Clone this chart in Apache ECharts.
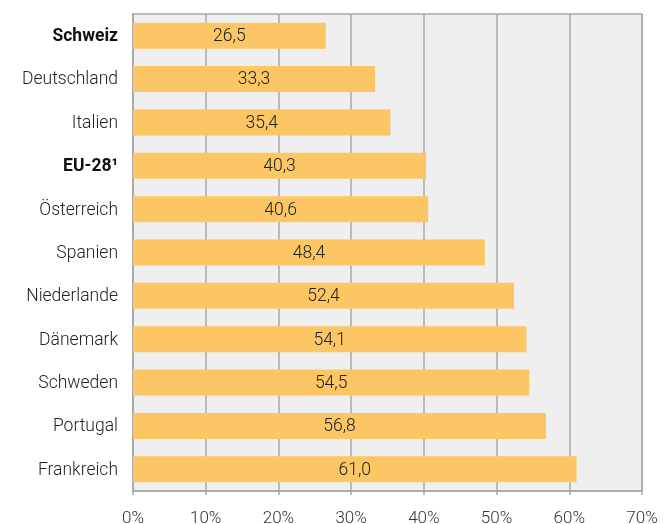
<!DOCTYPE html>
<html>
<head>
<meta charset="utf-8">
<script src="https://cdn.jsdelivr.net/npm/echarts@6/dist/echarts.min.js"></script>
<style>
html,body{margin:0;padding:0;background:#fff;}
#chart{width:664px;height:524px;}
</style>
</head>
<body>
<div id="chart"></div>
<script>
// Countries, top to bottom
const countries = ['Schweiz','Deutschland','Italien','EU-28¹','Österreich','Spanien','Niederlande','Dänemark','Schweden','Portugal','Frankreich'];
// Share in percent
const shares = [26.5,33.3,35.4,40.3,40.6,48.4,52.4,54.1,54.5,56.8,61.0];
// Rows shown in bold
const boldRows = ['Schweiz','EU-28¹'];
// Axis ticks
const axisTicks = [0,10,20,30,40,50,60,70];

const chart = echarts.init(document.getElementById('chart'), null, {renderer:'canvas'});
const gridColor = '#a9a9a9';
const fs = 17.5;
chart.setOption({
  animation:false,
  textStyle:{fontFamily:'Roboto'},
  grid:{left:133,right:22,top:14,bottom:33,containLabel:false,outerBoundsMode:'none',
    show:true,backgroundColor:'#efefef',borderColor:gridColor,borderWidth:1.5},
  xAxis:{
    type:'value',min:axisTicks[0],max:axisTicks[axisTicks.length-1],interval:10,
    axisLine:{show:true,lineStyle:{color:gridColor,width:1.5}},
    axisTick:{show:true,length:4,lineStyle:{color:gridColor,width:1.5}},
    splitLine:{show:true,lineStyle:{color:gridColor,width:1.5}},
    axisLabel:{formatter:v=>v+'%',color:'#333',fontSize:17,margin:19,fontWeight:300}
  },
  yAxis:{
    type:'category',data:countries,inverse:true,
    axisLine:{show:true,lineStyle:{color:gridColor,width:1.5}},
    axisTick:{show:false},
    axisLabel:{
      margin:15,fontSize:fs,color:'#222',padding:[2,0,0,0],
      formatter:v=>boldRows.includes(v)?'{b|'+v+'}':'{n|'+v+'}',
      rich:{b:{fontWeight:'bold',fontSize:fs,color:'#111',fontFamily:'Roboto'},n:{fontWeight:300,fontSize:fs,color:'#222',fontFamily:'Roboto'}}
    }
  },
  series:[{
    type:'bar',data:shares,barWidth:26,
    itemStyle:{color:'#fcc664'},
    label:{show:true,position:'inside',offset:[0,1],color:'#222',fontSize:fs,fontWeight:300,
      formatter:p=>p.value.toFixed(1).replace('.',',')}
  }]
});
</script>
</body>
</html>
